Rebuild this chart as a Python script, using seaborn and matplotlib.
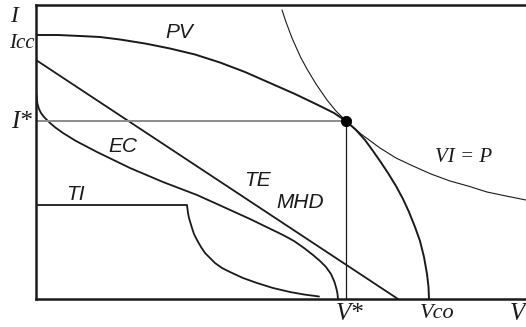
import matplotlib
matplotlib.use("Agg")
import matplotlib.pyplot as plt
import seaborn as sns
import pandas as pd

# Chart values (arbitrary V / I units)
pv_v = [0, 22, 44, 64, 84, 109, 134, 159, 184, 209, 234, 259, 284, 298, 310,
        320, 329, 337, 344, 352, 360, 367, 373, 379, 384, 388, 391, 392.5, 393]
pv_i = [264, 264, 263, 262, 259.5, 255.5, 250.5, 244.5, 236.5, 227, 216, 205, 193, 186, 178,
        169, 159, 148, 138, 126, 113, 100, 87, 72, 58, 42, 25, 12, 0]

hyp_v = [246, 248, 250, 253, 256, 260, 265, 271, 280, 291, 300, 310, 325, 344,
         360, 377, 395, 414, 432, 451, 470, 490]
hyp_i = [289, 283, 277, 269, 261, 252, 241, 230, 215, 199, 188, 178, 165, 151,
         141, 133, 125, 118, 113, 107, 103, 99]

te_v = [0, 362]
te_i = [239, 0]

ec_v = [0.3, 0.8, 1.5, 3, 5, 8, 14, 20, 27, 40, 61, 94, 127, 161, 181, 214,
        247, 258, 268, 277, 284, 290, 295, 298.5, 300.5, 301.5, 302]
ec_i = [206, 200, 195, 190, 186, 182, 176, 171, 166, 158, 147, 131, 117, 104, 95, 80,
        64, 58, 51, 44, 38, 32, 25, 17, 10, 5, 0]

ti_v = [0, 151, 151.5, 152, 153, 154.5, 156, 158, 161, 165, 169, 174, 179, 186,
        194, 207, 221, 237, 254, 268, 283]
ti_i = [94, 94, 90, 86, 81, 76, 71, 65, 59, 52, 46, 41, 36, 31,
        27, 21, 16, 11, 7, 4.5, 2.5]

mpp_v = [310]
mpp_i = [178]

sns.set_theme(style="white")
plt.rcParams["font.family"] = ["Liberation Serif", "DejaVu Serif"]

fig = plt.figure(figsize=(5.26, 3.27), dpi=100)
ax = fig.add_axes([36 / 526, 28 / 327, 490 / 526, 294 / 327])

dark = "#1a1a1a"

def curve(v, i, lw, color=dark):
    df = pd.DataFrame({"V": v, "I": i})
    sns.lineplot(data=df, x="V", y="I", sort=False, estimator=None,
                 color=color, linewidth=lw, ax=ax)

curve(pv_v, pv_i, 1.4)
curve(hyp_v, hyp_i, 0.8)
curve(te_v, te_i, 1.3)
curve(ec_v, ec_i, 1.3)
curve(ti_v, ti_i, 1.3)

# operating point guides
ax.plot([0, mpp_v[0]], [mpp_i[0], mpp_i[0]], color="#8c8c8c", linewidth=1.4)
ax.plot([mpp_v[0], mpp_v[0]], [0, mpp_i[0]], color=dark, linewidth=0.9)
sns.scatterplot(x=mpp_v, y=mpp_i, color="black", s=55, edgecolor="black",
                zorder=5, ax=ax)

ax.set_xlim(0, 490)
ax.set_ylim(0, 294)
ax.set_xticks([])
ax.set_yticks([])
ax.set_xlabel("")
ax.set_ylabel("")
for side in ["left", "top", "bottom"]:
    ax.spines[side].set_visible(True)
    ax.spines[side].set_color(dark)
    ax.spines[side].set_linewidth(1.8)
ax.spines["right"].set_visible(False)

serif = dict(family=["Liberation Serif", "DejaVu Serif"], style="italic",
             color=dark, clip_on=False)
sans = dict(family=["Liberation Sans", "DejaVu Sans"], style="italic",
            color=dark, clip_on=False)

ax.text(-22, 282, "I", fontsize=17, ha="center", va="center", **serif)
ax.text(-1, 255, "Icc", fontsize=15, ha="right", va="center", **serif)
ax.text(-4, 177, "I*", fontsize=18, ha="right", va="center", **serif)
ax.text(314, -4, "V*", fontsize=18, ha="center", va="top", **serif)
ax.text(384, -5, "Vco", fontsize=16, ha="left", va="top", **serif)
ax.text(489, -4, "V", fontsize=18, ha="right", va="top", **serif)
ax.text(428, 142, "VI = P", fontsize=15, ha="center", va="center", **serif)

ax.text(143, 267, "PV", fontsize=15, ha="center", va="center", **sans)
ax.text(87, 153, "EC", fontsize=15, ha="center", va="center", **sans)
ax.text(221, 118, "TE", fontsize=15, ha="center", va="center", **sans)
ax.text(264, 97, "MHD", fontsize=15, ha="center", va="center", **sans)
ax.text(39, 104, "TI", fontsize=15, ha="center", va="center", **sans)

fig.savefig("out.png", dpi=100)
